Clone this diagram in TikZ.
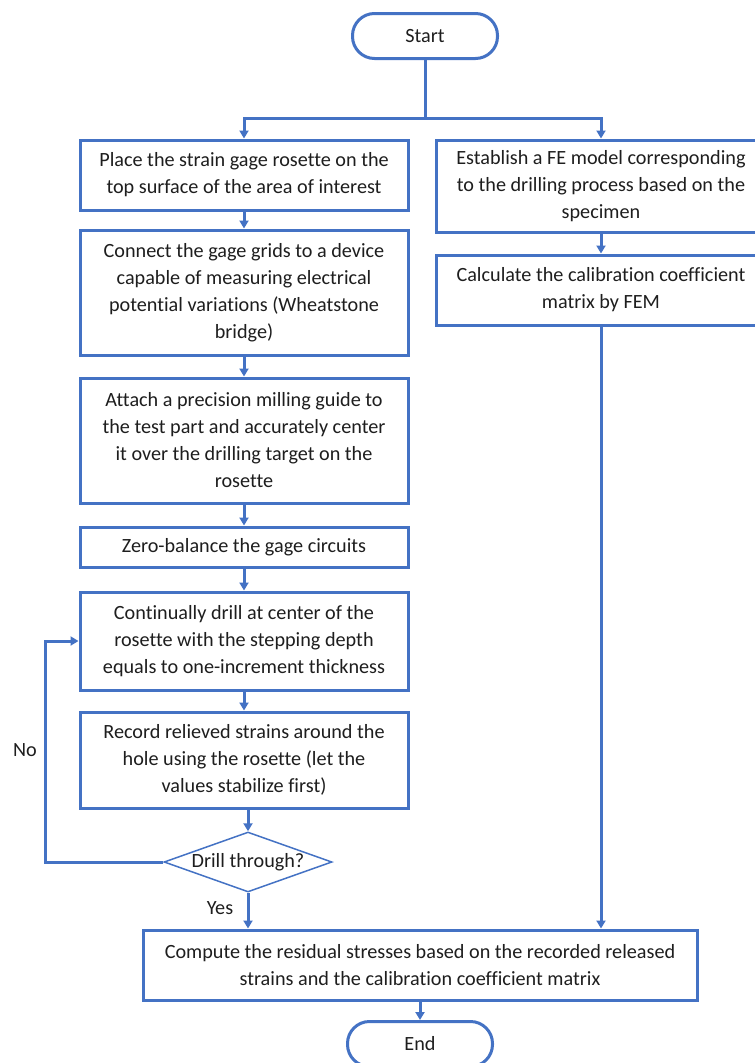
\documentclass[tikz,border=0pt]{standalone}
\usepackage{fontspec}
\setmainfont[Ligatures=NoCommon]{Carlito}
\usetikzlibrary{shapes.geometric,arrows.meta}
\definecolor{flowblue}{HTML}{4472C4}
\definecolor{txt}{HTML}{1E1E1E}
\tikzset{
  box/.style={draw=flowblue, line width=3pt, fill=white, align=center, text=txt,
    font=\fontsize{20.2}{27}\selectfont, inner sep=0pt},
  term/.style={box, rounded corners=22pt, minimum width=145pt, minimum height=45pt},
  decision/.style={diamond, draw=flowblue, line width=1.5pt, fill=white, text=txt,
    font=\fontsize{20.2}{27}\selectfont, aspect=2.8, inner sep=0pt,
    minimum width=168pt, minimum height=60pt},
  conn/.style={draw=flowblue, line width=3pt, -{Triangle[length=8pt,width=9pt]}},
  lbl/.style={text=txt, font=\fontsize{20.2}{27}\selectfont}
}
\begin{document}
\begin{tikzpicture}[x=1pt,y=-1pt]
\useasboundingbox (0,0) rectangle (755,1063);
\clip (0,0) rectangle (755,1063);
\node[term] (start) at (425,36) {Start};
\node[box, minimum width=328pt, minimum height=70pt] (L1) at (244,175)
  {Place the strain gage rosette on the\\top surface of the area of interest};
\node[box, minimum width=328pt, minimum height=125pt] (L2) at (244,292.5)
  {Connect the gage grids to a device\\capable of measuring electrical\\potential variations (Wheatstone\\bridge)};
\node[box, minimum width=328pt, minimum height=125pt] (L3) at (244,440.5)
  {Attach a precision milling guide to\\the test part and accurately center\\it over the drilling target on the\\rosette};
\node[box, minimum width=328pt, minimum height=40pt] (L4) at (244,547)
  {Zero-balance the gage circuits};
\node[box, minimum width=328pt, minimum height=98pt] (L5) at (244,641)
  {Continually drill at center of the\\rosette with the stepping depth\\equals to one-increment thickness};
\node[box, minimum width=328pt, minimum height=96pt] (L6) at (244,760)
  {Record relieved strains around the\\hole using the rosette (let the\\values stabilize first)};
\node[decision] (dia) at (248,862) {Drill through?};
\node[box, minimum width=330pt, minimum height=92pt] (R1) at (601,186)
  {Establish a FE model corresponding\\to the drilling process based on the\\specimen};
\node[box, minimum width=330pt, minimum height=70pt] (R2) at (601,290)
  {Calculate the calibration coefficient\\matrix by FEM};
\node[box, minimum width=554pt, minimum height=70pt] (B) at (420,965)
  {Compute the residual stresses based on the recorded released\\strains and the calibration coefficient matrix};
\node[term] (end) at (420,1044) {End};

\coordinate (split) at (425,118);
\draw[draw=flowblue, line width=3pt] (start.south) -- (split);
\draw[conn] (split) -| (L1.north);
\draw[conn] (split) -| (R1.north);
\draw[conn] (L1) -- (L2);
\draw[conn] (L2) -- (L3);
\draw[conn] (L3) -- (L4);
\draw[conn] (L4) -- (L5);
\draw[conn] (L5) -- (L6);
\draw[conn] (L6.south -| dia.north) -- (dia.north);
\draw[conn] (R1) -- (R2);
\draw[conn] (R2.south) -- (R2.south |- B.north);
\draw[conn] (dia.south) -- (dia.south |- B.north);
\coordinate (nocorner) at (45,862);
\draw[conn] (dia.west) -- (nocorner) |- (L5.west);
\draw[conn] (B.south -| end.north) -- (end.north);
\node[lbl] (yes) at (220,908) {Yes};
\node[lbl] (no) at (25,750) {No};
\end{tikzpicture}
\end{document}
